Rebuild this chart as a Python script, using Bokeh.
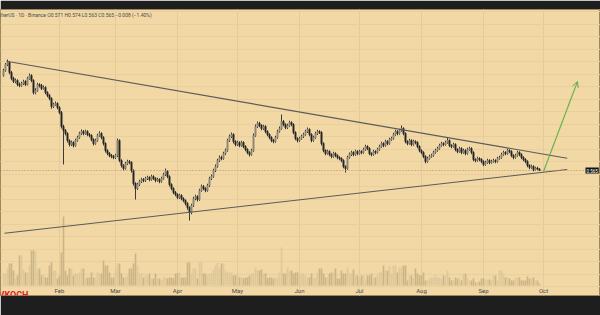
import pandas as pd
from bokeh.plotting import figure
from bokeh.models import (Range1d, ColumnDataSource, Span, Arrow, OpenHead, Label,
                          FixedTicker, SingleIntervalTicker, Grid)
from bokeh.embed import file_html
from bokeh.resources import INLINE
from bokeh.core.properties import value

# ---------------- data (daily candles, 2023) ----------------
first_date = "2023-01-04"
first_open = 0.945

close = [0.965, 0.989, 0.997, 0.957, 0.933, 0.921, 0.925, 0.909, 0.905, 0.913,
         0.921, 0.909, 0.933, 0.945, 0.925, 0.877, 0.885, 0.909, 0.905, 0.893,
         0.897, 0.877, 0.865, 0.853, 0.821, 0.829, 0.833, 0.817, 0.797, 0.741,
         0.725, 0.713, 0.685, 0.669, 0.677, 0.665, 0.685, 0.697, 0.713, 0.721,
         0.713, 0.721, 0.709, 0.705, 0.689, 0.673, 0.685, 0.705, 0.713, 0.697,
         0.673, 0.645, 0.633, 0.625, 0.621, 0.617, 0.625, 0.685, 0.605, 0.585,
         0.573, 0.593, 0.601, 0.597, 0.565, 0.513, 0.493, 0.509, 0.521, 0.529,
         0.525, 0.533, 0.537, 0.529, 0.541, 0.533, 0.525, 0.529, 0.521, 0.533,
         0.549, 0.561, 0.541, 0.509, 0.493, 0.477, 0.469, 0.457, 0.465, 0.453,
         0.445, 0.433, 0.417, 0.397, 0.425, 0.453, 0.461, 0.449, 0.485, 0.501,
         0.493, 0.485, 0.505, 0.533, 0.541, 0.565, 0.581, 0.605, 0.617, 0.613,
         0.633, 0.645, 0.685, 0.701, 0.709, 0.681, 0.669, 0.677, 0.665, 0.677,
         0.661, 0.649, 0.637, 0.629, 0.645, 0.705, 0.741, 0.753, 0.745, 0.733,
         0.741, 0.721, 0.709, 0.697, 0.685, 0.681, 0.697, 0.721, 0.733, 0.761,
         0.749, 0.737, 0.745, 0.757, 0.749, 0.717, 0.693, 0.685, 0.693, 0.701,
         0.709, 0.721, 0.729, 0.709, 0.685, 0.697, 0.713, 0.721, 0.717, 0.673,
         0.645, 0.633, 0.641, 0.629, 0.621, 0.633, 0.625, 0.617, 0.613, 0.605,
         0.581, 0.573, 0.617, 0.629, 0.637, 0.629, 0.641, 0.633, 0.641, 0.637,
         0.649, 0.661, 0.653, 0.633, 0.629, 0.641, 0.637, 0.649, 0.661, 0.673,
         0.665, 0.681, 0.673, 0.689, 0.693, 0.709, 0.721, 0.713, 0.725, 0.733,
         0.713, 0.681, 0.673, 0.685, 0.669, 0.681, 0.677, 0.661, 0.645, 0.637,
         0.621, 0.601, 0.613, 0.621, 0.625, 0.637, 0.645, 0.653, 0.665, 0.673,
         0.669, 0.677, 0.685, 0.665, 0.661, 0.669, 0.649, 0.641, 0.653, 0.637,
         0.645, 0.633, 0.649, 0.653, 0.637, 0.609, 0.605, 0.613, 0.609, 0.601,
         0.589, 0.597, 0.605, 0.597, 0.601, 0.605, 0.601, 0.613, 0.617, 0.629,
         0.637, 0.633, 0.645, 0.641, 0.625, 0.617, 0.625, 0.637, 0.629, 0.617,
         0.609, 0.601, 0.585, 0.577, 0.581, 0.569, 0.575, 0.571, 0.565]

high = [0.972, 0.995, 1.009, 1.002, 0.963, 0.940, 0.933, 0.930, 0.917, 0.920,
        0.928, 0.926, 0.940, 0.953, 0.950, 0.930, 0.894, 0.916, 0.914, 0.911,
        0.905, 0.902, 0.882, 0.871, 0.858, 0.836, 0.841, 0.838, 0.822, 0.803,
        0.748, 0.731, 0.718, 0.690, 0.684, 0.682, 0.692, 0.704, 0.720, 0.729,
        0.727, 0.728, 0.726, 0.715, 0.710, 0.694, 0.692, 0.712, 0.722, 0.718,
        0.702, 0.678, 0.650, 0.639, 0.631, 0.627, 0.632, 0.693, 0.690, 0.610,
        0.590, 0.600, 0.608, 0.607, 0.602, 0.570, 0.518, 0.516, 0.528, 0.536,
        0.535, 0.540, 0.544, 0.542, 0.548, 0.546, 0.538, 0.536, 0.534, 0.540,
        0.556, 0.573, 0.566, 0.546, 0.514, 0.498, 0.483, 0.474, 0.472, 0.470,
        0.458, 0.450, 0.438, 0.422, 0.432, 0.460, 0.468, 0.466, 0.492, 0.509,
        0.507, 0.498, 0.512, 0.540, 0.549, 0.572, 0.589, 0.612, 0.625, 0.624,
        0.640, 0.653, 0.692, 0.709, 0.717, 0.714, 0.686, 0.684, 0.682, 0.684,
        0.682, 0.666, 0.654, 0.642, 0.652, 0.713, 0.749, 0.761, 0.760, 0.750,
        0.748, 0.746, 0.726, 0.714, 0.702, 0.691, 0.704, 0.728, 0.741, 0.789,
        0.767, 0.754, 0.752, 0.764, 0.762, 0.754, 0.722, 0.698, 0.700, 0.708,
        0.716, 0.728, 0.737, 0.734, 0.714, 0.704, 0.720, 0.728, 0.726, 0.722,
        0.678, 0.650, 0.648, 0.646, 0.634, 0.640, 0.638, 0.630, 0.622, 0.618,
        0.610, 0.586, 0.624, 0.637, 0.644, 0.642, 0.648, 0.646, 0.648, 0.646,
        0.656, 0.668, 0.666, 0.658, 0.638, 0.648, 0.646, 0.656, 0.668, 0.680,
        0.678, 0.688, 0.686, 0.696, 0.700, 0.716, 0.728, 0.726, 0.732, 0.745,
        0.738, 0.718, 0.686, 0.692, 0.690, 0.688, 0.686, 0.682, 0.666, 0.650,
        0.642, 0.626, 0.620, 0.628, 0.632, 0.644, 0.652, 0.660, 0.672, 0.680,
        0.678, 0.684, 0.697, 0.690, 0.670, 0.676, 0.674, 0.654, 0.660, 0.658,
        0.652, 0.650, 0.656, 0.660, 0.658, 0.642, 0.614, 0.620, 0.618, 0.614,
        0.606, 0.604, 0.612, 0.610, 0.608, 0.612, 0.610, 0.620, 0.624, 0.636,
        0.644, 0.642, 0.652, 0.650, 0.646, 0.630, 0.632, 0.644, 0.642, 0.634,
        0.622, 0.614, 0.606, 0.590, 0.588, 0.586, 0.580, 0.580, 0.574]

low = [0.940, 0.960, 0.983, 0.950, 0.926, 0.915, 0.914, 0.902, 0.898, 0.900,
       0.907, 0.903, 0.905, 0.928, 0.918, 0.869, 0.870, 0.880, 0.897, 0.887,
       0.888, 0.870, 0.858, 0.846, 0.812, 0.815, 0.824, 0.810, 0.790, 0.733,
       0.589, 0.705, 0.677, 0.661, 0.663, 0.657, 0.660, 0.680, 0.692, 0.707,
       0.706, 0.708, 0.702, 0.698, 0.682, 0.665, 0.668, 0.680, 0.700, 0.690,
       0.665, 0.637, 0.626, 0.618, 0.614, 0.610, 0.611, 0.619, 0.598, 0.577,
       0.565, 0.568, 0.587, 0.590, 0.557, 0.505, 0.449, 0.487, 0.503, 0.515,
       0.518, 0.519, 0.527, 0.522, 0.524, 0.527, 0.518, 0.520, 0.514, 0.516,
       0.528, 0.543, 0.534, 0.501, 0.486, 0.470, 0.462, 0.450, 0.451, 0.446,
       0.438, 0.425, 0.408, 0.365, 0.390, 0.419, 0.446, 0.441, 0.444, 0.480,
       0.486, 0.478, 0.480, 0.499, 0.527, 0.536, 0.559, 0.576, 0.599, 0.606,
       0.608, 0.627, 0.640, 0.679, 0.695, 0.673, 0.662, 0.663, 0.658, 0.660,
       0.654, 0.642, 0.630, 0.621, 0.624, 0.640, 0.700, 0.735, 0.738, 0.726,
       0.727, 0.714, 0.702, 0.690, 0.678, 0.674, 0.676, 0.692, 0.716, 0.728,
       0.742, 0.730, 0.731, 0.740, 0.742, 0.710, 0.686, 0.677, 0.679, 0.688,
       0.695, 0.704, 0.715, 0.702, 0.678, 0.680, 0.692, 0.707, 0.711, 0.665,
       0.638, 0.626, 0.628, 0.622, 0.614, 0.616, 0.618, 0.610, 0.606, 0.598,
       0.574, 0.557, 0.568, 0.612, 0.623, 0.622, 0.624, 0.626, 0.628, 0.630,
       0.632, 0.644, 0.646, 0.626, 0.622, 0.624, 0.630, 0.632, 0.644, 0.656,
       0.658, 0.660, 0.666, 0.668, 0.684, 0.688, 0.704, 0.706, 0.708, 0.720,
       0.706, 0.674, 0.666, 0.668, 0.662, 0.664, 0.670, 0.654, 0.638, 0.630,
       0.614, 0.594, 0.596, 0.608, 0.616, 0.620, 0.632, 0.640, 0.648, 0.660,
       0.662, 0.664, 0.672, 0.658, 0.654, 0.656, 0.642, 0.634, 0.636, 0.630,
       0.632, 0.626, 0.628, 0.644, 0.630, 0.602, 0.598, 0.600, 0.602, 0.594,
       0.582, 0.584, 0.592, 0.590, 0.592, 0.596, 0.594, 0.596, 0.608, 0.612,
       0.624, 0.626, 0.628, 0.634, 0.618, 0.610, 0.612, 0.620, 0.622, 0.610,
       0.602, 0.594, 0.578, 0.570, 0.572, 0.562, 0.564, 0.566, 0.563]

volume_m = [12, 12, 17, 22, 22, 15, 7, 10, 30, 30,
            16, 13, 13, 20, 35, 35, 34, 17, 17, 10,
            10, 8, 8, 20, 23, 15, 15, 7, 10, 33,
            69, 15, 10, 17, 17, 10, 12, 12, 13, 17,
            17, 7, 8, 8, 13, 8, 8, 13, 12, 12,
            25, 20, 20, 13, 8, 8, 15, 22, 22, 12,
            8, 8, 10, 17, 17, 22, 32, 20, 12, 12,
            8, 10, 10, 12, 7, 7, 12, 7, 7, 5,
            8, 8, 7, 8, 8, 7, 12, 12, 13, 8,
            8, 8, 23, 23, 12, 17, 17, 7, 23, 23,
            12, 12, 10, 12, 12, 16, 20, 23, 17, 22,
            22, 15, 13, 13, 13, 10, 10, 12, 8, 8,
            7, 8, 8, 10, 12, 12, 18, 15, 15, 16,
            12, 12, 7, 8, 8, 7, 8, 8, 13, 38,
            12, 12, 18, 15, 15, 12, 13, 13, 10, 12,
            12, 10, 8, 8, 12, 8, 8, 13, 17, 17,
            12, 8, 8, 12, 13, 13, 17, 7, 7, 15,
            12, 12, 18, 12, 12, 16, 10, 10, 7, 10,
            10, 5, 10, 10, 12, 8, 8, 10, 13, 13,
            20, 15, 15, 19, 12, 20, 20, 13, 18, 18,
            20, 20, 5, 10, 10, 7, 17, 12, 10, 10,
            13, 5, 5, 7, 8, 8, 10, 8, 8, 7,
            10, 10, 15, 8, 5, 5, 8, 7, 7, 5,
            12, 12, 8, 5, 5, 7, 3, 3, 4, 7,
            7, 5, 6, 6, 5, 10, 10, 5, 15, 15,
            12, 8, 8, 7, 5, 5, 7, 8, 8, 5,
            5, 5, 9, 7, 7, 8, 5, 5, 2]

month_labels = ["Feb", "Mar", "Apr", "May", "Jun", "Jul", "Aug", "Sep", "Oct"]
month_starts = ["2023-02-01", "2023-03-01", "2023-04-01", "2023-05-01", "2023-06-01",
                "2023-07-01", "2023-08-01", "2023-09-01", "2023-10-01"]

# drawn trendlines and projection (date, price)
upper_trend_dates = ["2023-01-05 12:00", "2023-10-12 20:24"]
upper_trend_price = [1.002, 0.614]
lower_trend_dates = ["2023-01-04 12:00", "2023-10-12 20:24"]
lower_trend_price = [0.314, 0.569]
target_dates = ["2023-10-01 00:00", "2023-10-18 00:00"]
target_price = [0.561, 0.921]

last_price = 0.565
header = "therUS · 1D · Binance   O0.571   H0.574   L0.563   C0.565   −0.008 (−1.40%)"

# ---------------- build ----------------
def ms(s):
    return pd.Timestamp(s).value / 1e6

DAY = 86400000.0
dates = pd.date_range(first_date, periods=len(close), freq="D")
opens = [first_open] + close[:-1]
up = [c >= o for o, c in zip(opens, close)]

BG = "#f1d8a5"
src = ColumnDataSource(dict(
    x=dates, o=opens, c=close, h=high, l=low, v=volume_m,
    top=[max(o, c) for o, c in zip(opens, close)],
    bot=[min(o, c) for o, c in zip(opens, close)],
    col=["#8e8677" if u else "#262626" for u in up],
    vcol=["#dcc598" if u else "#c7ad80" for u in up],
))

x0 = ms("2023-01-02 12:00")
p = figure(width=600, height=315, output_backend="svg", toolbar_location=None,
           x_axis_type="datetime", x_axis_location=None, y_axis_location=None,
           x_range=Range1d(x0, x0 + 300 * DAY), y_range=Range1d(0.065, 1.209),
           min_border_top=9, min_border_bottom=20, min_border_left=0, min_border_right=0)
p.extra_y_ranges = {"vol": Range1d(-10, 276)}
p.background_fill_color = BG
p.border_fill_color = "#1e1e1e"
p.outline_line_color = "#9c8760"
p.outline_line_width = 1

gx = Grid(dimension=0, ticker=FixedTicker(ticks=[ms(d) for d in month_starts]),
          grid_line_color="#e5cb98", grid_line_width=1)
gy = Grid(dimension=1, ticker=SingleIntervalTicker(interval=0.05),
          grid_line_color="#e8cf9d", grid_line_width=1)
p.add_layout(gx)
p.add_layout(gy)

# volume
p.vbar(x="x", width=0.8 * DAY, top="v", bottom=0, source=src, y_range_name="vol",
       fill_color="vcol", line_color=None, fill_alpha=0.85)

# price line
p.add_layout(Span(location=last_price, dimension="width", line_color="#b39063",
                  line_dash="1 2", line_width=1))

# candles
p.segment(x0="x", y0="h", x1="x", y1="l", source=src, line_color="#3a3a3a", line_width=1)
p.vbar(x="x", width=0.7 * DAY, top="top", bottom="bot", source=src,
       fill_color="col", line_color="col", line_width=0.5)

# trendlines
p.line([ms(d) for d in upper_trend_dates], upper_trend_price, line_color="#5b5b5b", line_width=1.1)
p.line([ms(d) for d in lower_trend_dates], lower_trend_price, line_color="#5b5b5b", line_width=1.1)

# projection arrow
p.add_layout(Arrow(end=OpenHead(size=6, line_color="#62b24a", line_width=1),
                   x_start=ms(target_dates[0]), y_start=target_price[0],
                   x_end=ms(target_dates[1]), y_end=target_price[1],
                   line_color="#62b24a", line_width=1.1))

# month labels
p.text(x=[ms(d) for d in month_starts], y=[-5] * len(month_starts), text=month_labels,
       y_range_name="vol", text_align="center", text_baseline="middle",
       text_font=value("Roboto"), text_font_size="6px", text_color="#4a4a4a")

# header
p.add_layout(Label(x=-1, y=281, x_units="screen", y_units="screen", text=header,
                   text_font="Roboto", text_font_size="5px", text_color="#4a4a4a",
                   text_baseline="middle"))

# last price tag (kept fully inside the window)
p.add_layout(Label(x=585, y=last_price, x_units="screen", y_units="data",
                   text=f"{last_price:.3f}", text_font="Roboto", text_font_size="4.5px",
                   text_color="#ffffff", text_baseline="middle",
                   background_fill_color="#151515", padding=1))

# watermark
p.add_layout(Label(x=-2, y=1, x_units="screen", y_units="screen", text="VKOCH",
                   text_font="Roboto", text_font_style="bold", text_font_size="9px",
                   text_color="#e3202a", text_baseline="middle"))

open("out.html", "w").write(file_html(p, INLINE))
